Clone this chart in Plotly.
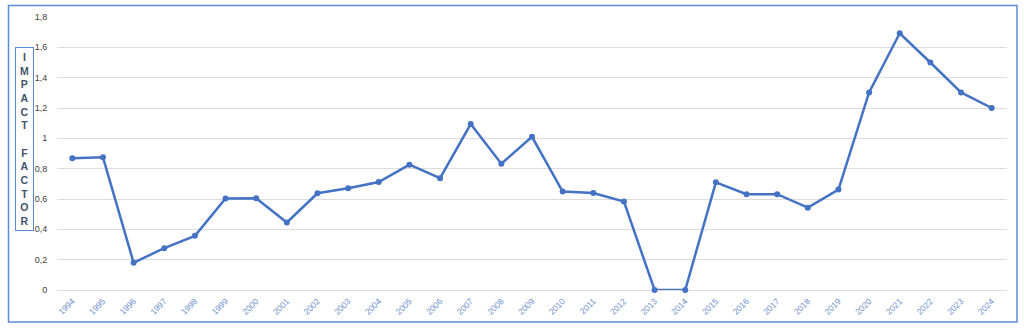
import plotly.graph_objects as go

years = [str(y) for y in range(1994, 2025)]
impact = [0.868, 0.875, 0.18, 0.276, 0.357, 0.603, 0.605, 0.445, 0.638, 0.671,
          0.712, 0.826, 0.737, 1.094, 0.833, 1.01, 0.649, 0.64, 0.583, 0.0,
          0.0, 0.71, 0.632, 0.632, 0.543, 0.662, 1.303, 1.693, 1.5, 1.303, 1.2]
title_letters = list("IMPACT") + [" "] + list("FACTOR")

W, H = 1024, 329
L, R, T, B = 57, 17, 17, 39
pw, ph = W - L - R, H - T - B

def px_x(x):
    return (x - L) / pw

def px_y(y):
    return (H - B - y) / ph

line_color = "#4472C4"
border_color = "#5b8ad6"

fig = go.Figure()
fig.add_trace(go.Scatter(
    x=years, y=impact, mode="lines+markers",
    line=dict(color=line_color, width=2.5),
    marker=dict(color=line_color, size=6),
    cliponaxis=False, showlegend=False,
))

fig.update_layout(
    width=W, height=H,
    margin=dict(l=L, r=R, t=T, b=B),
    paper_bgcolor="white", plot_bgcolor="white",
    separators=",.",
    font=dict(family="Liberation Sans, Arial, sans-serif"),
    xaxis=dict(
        type="category", range=[-0.5, len(years) - 0.5],
        showgrid=False, zeroline=False, showline=False,
        tickangle=-45, tickfont=dict(size=8.5, color="#6f8fd0"),
        ticks="outside", ticklen=2, tickcolor="rgba(0,0,0,0)",
    ),
    yaxis=dict(
        range=[0, 1.8], dtick=0.2, tick0=0,
        showgrid=True, gridcolor="#dcdcdc", gridwidth=1,
        zeroline=True, zerolinecolor="#dcdcdc", zerolinewidth=1,
        showline=False, tickfont=dict(size=9, color="#404040"),
        ticks="outside", ticklen=7, tickcolor="rgba(0,0,0,0)",
    ),
    shapes=[dict(
        type="rect", xref="paper", yref="paper",
        x0=px_x(8.5), x1=px_x(1017), y0=px_y(322), y1=px_y(5.5),
        line=dict(color=border_color, width=1.5), fillcolor="rgba(0,0,0,0)",
        layer="below",
    )],
    annotations=[dict(
        xref="paper", yref="paper", x=px_x(24.5), y=px_y(139),
        xanchor="center", yanchor="middle", showarrow=False,
        text="<br>".join(title_letters),
        font=dict(size=10.5, color="#44546A", family="Liberation Sans, Arial, sans-serif", weight="bold"),
        bordercolor=border_color, borderwidth=1, borderpad=3,
        width=11, align="center",
    )],
)

fig.write_html("out.html")
